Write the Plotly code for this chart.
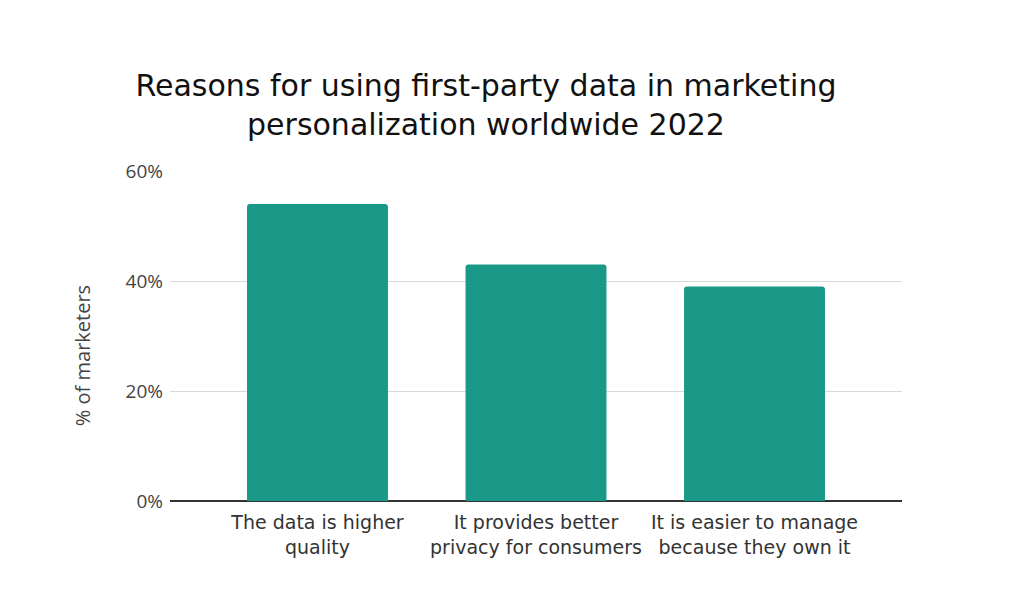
import plotly.graph_objects as go

categories = ["The data is higher<br>quality",
              "It provides better<br>privacy for consumers",
              "It is easier to manage<br>because they own it"]
values = [54, 43, 39]
y_ticks = [0, 20, 40, 60]
y_tick_labels = ["0%", "20%", "40%", "60%"]
y_title = "% of marketers"

fig = go.Figure(go.Bar(
    x=categories, y=values,
    marker=dict(color="#1a9988", line=dict(width=0)),
    width=0.645,
))

fig.update_layout(
    width=1021, height=597,
    paper_bgcolor="white", plot_bgcolor="white",
    margin=dict(l=162, r=127, t=163, b=104),
    barcornerradius=3,
    showlegend=False,
    title=dict(
        text="Reasons for using first-party data in marketing<br>personalization worldwide 2022",
        font=dict(family="DejaVu Sans", size=30, color="#111"),
        x=478/1021, xanchor="center", xref="container",
        y=1-88/597, yanchor="top", yref="container",
    ),
    xaxis=dict(
        range=[-0.675, 2.675],
        tickfont=dict(family="DejaVu Sans", size=19, color="#333"),
        showgrid=False,
        showline=False,
        ticks="",
        ticklabelstandoff=8,
    ),
    yaxis=dict(
        range=[0, 60],
        tickvals=y_ticks, ticktext=y_tick_labels,
        tickfont=dict(family="Open Sans", size=19, color="#444"),
        gridcolor="#d9d9d9", gridwidth=1,
        zeroline=True, zerolinecolor="#333", zerolinewidth=1.5,
        ticks="", ticklen=0,
        ticklabelstandoff=6,
    ),
    annotations=[dict(
        text=y_title, textangle=-90, showarrow=False,
        xref="paper", yref="paper", x=-0.1202, y=0.439,
        xanchor="center", yanchor="middle",
        font=dict(family="Open Sans", size=20, color="#444"),
    )],
)

fig.write_html("out.html")
